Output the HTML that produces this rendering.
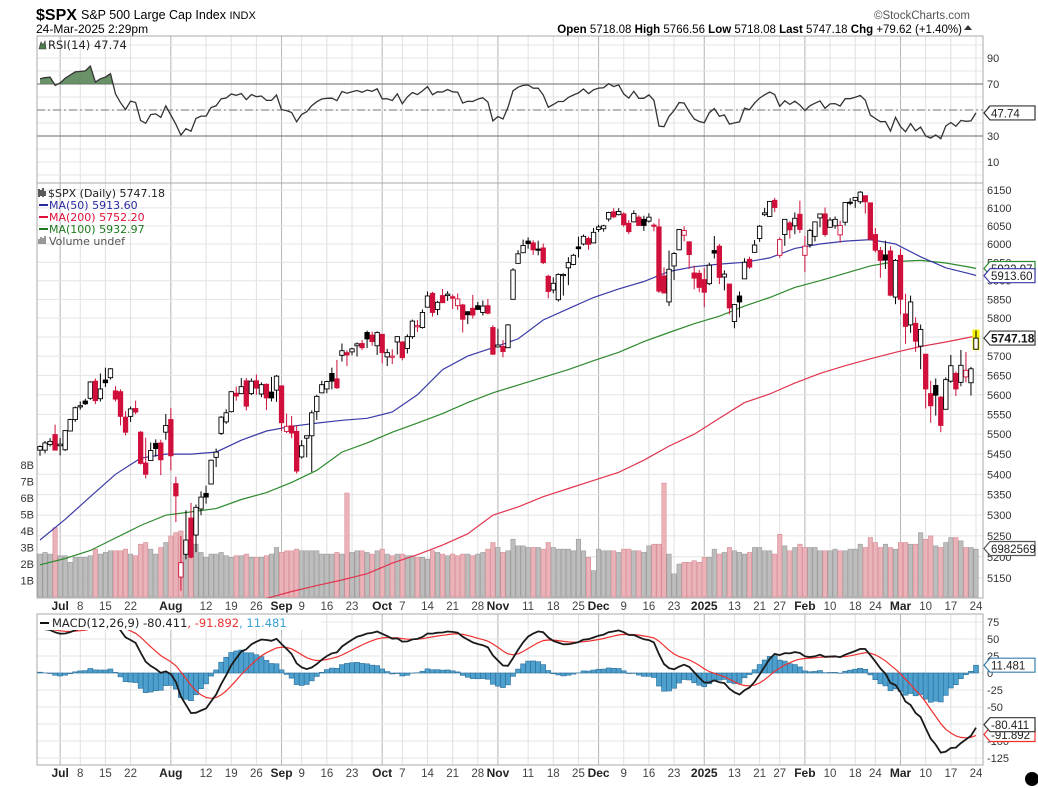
<!DOCTYPE html>
<html><head><meta charset="utf-8"><title>$SPX chart</title>
<style>
html,body{margin:0;padding:0;background:#fff;}
svg{display:block;font-family:"Liberation Sans",Arial,sans-serif;}
</style></head>
<body>
<svg id="chart" width="1038" height="788" viewBox="0 0 1038 788" xmlns="http://www.w3.org/2000/svg">
  <g>
    <text x="36" y="20" font-size="16" font-weight="bold">$SPX</text>
    <text x="81" y="19" font-size="12.5">S&amp;P 500 Large Cap Index <tspan font-size="11">INDX</tspan></text>
    <text x="36" y="33" font-size="12">24-Mar-2025 2:29pm</text>
    <text x="970" y="19" font-size="11.5" fill="#555" text-anchor="end">©StockCharts.com</text>
    <text x="962" y="33" font-size="11.5" text-anchor="end"><tspan font-weight="bold">Open</tspan> 5718.08  <tspan font-weight="bold">High</tspan> 5766.56  <tspan font-weight="bold">Low</tspan> 5718.08  <tspan font-weight="bold">Last</tspan> 5747.18  <tspan font-weight="bold">Chg</tspan> +79.62 (+1.40%)</text>
    <path d="M964,30 L968,25 L972,30 Z" fill="#333"/>
  </g>
  <g id="layer"></g>
  <circle cx="1032" cy="779" r="7" fill="#000"/>
</svg>
<script>
// ---------- DATA ----------
const preCloses=[5036,5018,5064,5128,5181,5187,5187,5214,5223,5221,5247,5308,5297,5303,5308,5321,5307,5268,5305,5306,5267,5236,5278,5283,5291,5354,5352,5347,5361,5375,5421,5434,5431,5473,5487,5473,5464,5448];
const opens=[5460,5460,5474,5499,5471,5461,5508,5537,5572,5584,5591,5635,5590,5638,5644,5610,5608,5543,5545,5565,5505,5428,5434,5477,5478,5505,5537,5377,5152,5206,5293,5252,5315,5353,5376,5442,5502,5531,5557,5604,5603,5636,5603,5636,5602,5627,5607,5612,5623,5507,5521,5507,5443,5490,5496,5557,5605,5615,5655,5641,5702,5709,5711,5727,5733,5762,5755,5727,5757,5698,5698,5737,5737,5720,5751,5779,5775,5829,5866,5823,5860,5860,5857,5833,5835,5817,5826,5833,5815,5833,5775,5724,5725,5722,5850,5947,5976,6008,6003,5986,5989,5912,5875,5849,5917,5935,5944,5992,6000,6015,6003,6040,6042,6069,6089,6081,6083,6057,6061,6074,6068,6063,6052,6047,5913,5843,5940,5984,6024,6006,5921,5920,5903,5892,5982,5994,5910,5891,5791,5859,5905,5958,5977,6015,6081,6076,6121,5969,6026,6058,6050,6082,5969,5998,6021,6072,6083,6046,6050,6025,6060,6116,6121,6117,6134,6114,6026,5982,5970,5981,5856,5969,5811,5782,5786,5726,5705,5603,5624,5594,5563,5635,5655,5632,5646,5631,5718];
const highs=[5472,5483,5490,5524,5490,5510,5539,5570,5583,5590,5635,5642,5655,5670,5669,5622,5614,5558,5570,5585,5508,5491,5479,5487,5486,5551,5566,5394,5250,5312,5330,5326,5358,5372,5436,5464,5546,5563,5609,5621,5643,5643,5642,5652,5632,5629,5646,5651,5624,5552,5546,5523,5485,5497,5560,5600,5636,5636,5670,5690,5733,5715,5722,5736,5742,5767,5764,5765,5757,5719,5718,5752,5739,5757,5796,5795,5823,5871,5870,5846,5878,5872,5863,5866,5838,5818,5862,5843,5847,5851,5781,5772,5742,5784,5934,5983,6012,6018,6010,6009,6001,5916,5909,5920,5920,5964,5973,6020,6026,6020,6044,6053,6053,6089,6099,6099,6088,6066,6093,6079,6078,6085,6057,6070,5936,5982,5978,6040,6049,6006,5941,5929,5935,5949,6022,6000,5928,5891,5837,5871,5961,5965,6011,6052,6100,6119,6128,6018,6069,6063,6087,6120,6022,6042,6062,6084,6101,6073,6076,6064,6116,6127,6129,6147,6134,6114,6044,5992,6009,5994,5959,5987,5865,5860,5802,5783,5705,5636,5642,5597,5645,5703,5660,5716,5711,5672,5767];
const lows=[5446,5452,5469,5460,5447,5458,5507,5531,5562,5574,5587,5576,5583,5620,5639,5583,5522,5497,5531,5550,5424,5390,5433,5444,5398,5486,5410,5283,5120,5194,5196,5211,5300,5328,5376,5418,5498,5526,5555,5585,5602,5560,5599,5600,5594,5561,5583,5582,5508,5503,5490,5402,5439,5442,5406,5536,5604,5604,5614,5615,5686,5674,5702,5699,5716,5721,5727,5703,5681,5674,5679,5704,5689,5707,5745,5763,5772,5828,5804,5808,5840,5846,5824,5822,5762,5784,5799,5822,5807,5810,5703,5723,5697,5721,5850,5947,5976,5987,5970,5969,5945,5853,5866,5844,5860,5888,5942,5963,5996,5984,6003,6033,6034,6062,6071,6079,6047,6027,6060,6051,6036,6059,6035,5867,5866,5832,5902,5983,6007,5932,5877,5869,5829,5888,5960,5891,5874,5810,5773,5802,5905,5932,5977,6006,6077,6075,6088,5962,5995,6015,6027,6030,5923,5990,6007,6046,6020,6045,6042,6004,6051,6107,6100,6111,6084,6009,5977,5908,5932,5858,5837,5810,5732,5761,5711,5666,5565,5529,5547,5505,5563,5631,5597,5622,5632,5598,5718];
const closes=[5469,5478,5482,5460,5475,5509,5537,5567,5572,5577,5633,5585,5615,5631,5667,5589,5545,5505,5564,5556,5427,5400,5459,5464,5436,5522,5446,5347,5186,5240,5199,5319,5344,5344,5435,5455,5543,5554,5608,5597,5621,5571,5635,5617,5626,5592,5592,5648,5529,5520,5503,5408,5471,5496,5554,5596,5626,5634,5635,5618,5714,5703,5719,5732,5722,5745,5738,5762,5709,5709,5700,5751,5696,5751,5792,5780,5815,5859,5815,5842,5841,5864,5853,5851,5797,5809,5808,5823,5832,5813,5705,5729,5712,5782,5929,5973,5996,6001,5984,5985,5949,5871,5893,5917,5917,5949,5969,5987,6021,5999,6032,6047,6050,6087,6075,6090,6053,6034,6084,6051,6051,6074,6050,5872,5867,5931,5974,6040,6037,5971,5907,5882,5869,5942,5975,5909,5918,5827,5836,5843,5950,5937,5997,6049,6086,6118,6101,6012,6068,6039,6071,6040,5994,6037,6061,6083,6026,6066,6068,6051,6115,6115,6129,6144,6117,6013,5983,5955,5956,5861,5955,5850,5778,5843,5739,5770,5615,5572,5599,5522,5639,5675,5615,5676,5663,5667,5747];
const volumes=[2.6,2.7,2.6,4.2,2.5,2.5,2.1,2.4,2.4,2.4,2.5,2.9,2.6,2.7,2.8,2.8,2.8,2.9,2.6,2.5,3.2,3.3,2.9,2.6,3.0,3.3,3.7,3.9,4.0,3.3,3.2,3.2,2.7,2.4,2.6,2.6,2.7,2.5,2.4,2.5,2.5,2.6,2.4,2.4,2.4,2.5,2.6,3.0,2.7,2.8,2.8,2.9,2.8,2.8,2.8,2.8,2.6,2.6,2.6,2.7,2.6,6.3,2.7,2.8,2.8,2.7,2.6,2.8,2.9,2.6,2.5,2.6,2.6,2.5,2.5,2.4,2.4,2.3,2.8,2.7,2.6,2.5,2.6,2.5,2.6,2.6,2.5,2.6,2.7,2.9,3.3,3.0,2.7,2.8,3.5,3.1,3.1,3.0,3.0,3.0,2.9,3.3,3.0,2.9,2.9,2.9,2.8,3.5,2.8,2.4,1.6,2.9,2.8,2.8,2.8,2.7,2.9,2.9,2.8,2.8,2.7,3.1,3.2,3.2,6.9,2.6,1.4,2.0,2.1,2.1,2.2,2.1,2.4,2.4,2.9,2.6,2.7,3.0,2.8,2.7,2.6,2.7,3.0,3.0,2.8,2.8,2.6,3.8,3.1,2.8,3.0,3.2,3.0,3.0,3.0,2.8,2.8,2.8,2.9,2.8,2.8,2.9,2.9,3.2,3.0,3.6,3.3,3.0,3.2,3.0,2.9,3.3,3.3,3.2,3.2,3.9,3.5,3.7,3.1,3.0,3.3,3.6,3.6,3.4,3.0,3.0,2.9,2.9,2.8,6.8,0];
const maIdx=[0,5,10,15,20,25,30,35,40,45,50,55,60,65,70,75,80,85,90,95,100,105,110,115,120,125,130,135,140,145,150,155,160,165,170,175,180,185,186];
const ma50=[5240,5290,5345,5400,5440,5450,5450,5455,5485,5508,5520,5528,5535,5540,5556,5600,5665,5700,5722,5745,5795,5825,5855,5878,5898,5925,5938,5945,5950,5962,5988,6000,6008,6012,6000,5965,5935,5918,5914];
const ma100=[5181,5196,5215,5245,5275,5300,5308,5316,5338,5355,5380,5410,5455,5478,5505,5528,5552,5580,5605,5625,5645,5665,5688,5710,5738,5762,5785,5805,5832,5855,5882,5900,5920,5940,5952,5955,5948,5936,5933];
const ma200=[4950,4965,4980,4995,5010,5025,5040,5055,5080,5102,5118,5132,5145,5160,5185,5205,5228,5255,5300,5320,5345,5365,5385,5405,5435,5470,5500,5540,5580,5602,5630,5655,5675,5693,5710,5725,5737,5750,5752];
const priceTicks=[5150,5200,5250,5300,5350,5400,5450,5500,5550,5600,5650,5700,5750,5800,5850,5900,5950,6000,6050,6100,6150];
const volTicks=[1,2,3,4,5,6,7,8];
const rsiTicks=[10,30,50,70,90];
const macdTicks=[-125,-100,-75,-50,-25,0,25,50,75];
const holidays=["2024-07-04","2024-09-02","2024-11-28","2024-12-25","2025-01-01","2025-01-09","2025-01-20","2025-02-17"];
const monthNames=["Jan","Feb","Mar","Apr","May","Jun","Jul","Aug","Sep","Oct","Nov","Dec"];

// ---------- GEOMETRY ----------
const NS="http://www.w3.org/2000/svg";
const L=37,R=983,X0=40,N=closes.length,STEP=(976-X0)/(N-1);
const RSI_T=36,RSI_B=183,P_T=183,P_B=598,M_T=614,M_B=765;
const layer=document.getElementById('layer');
function xS(i){return X0+i*STEP;}
function yP(p){return 190+2186*Math.log(6150/p);}
function yV(v){return 597-16.5*v;}
function yR(r){return 136-(r-30)*1.3;}
function yM(m){return 673-0.68*m;}
function mk(tag,attrs,parent){const e=document.createElementNS(NS,tag);for(const k in attrs)e.setAttribute(k,attrs[k]);(parent||layer).appendChild(e);return e;}
function grp(name){const g=mk('g',{});return g;}

// trading dates
const dates=[];{let d=new Date(Date.UTC(2024,5,25));while(dates.length<N){const dw=d.getUTCDay();const s=d.toISOString().slice(0,10);if(dw!==0&&dw!==6&&holidays.indexOf(s)<0)dates.push(new Date(d));d=new Date(d.getTime()+86400000);}}
// x-axis ticks
const isMonthStart=dates.map((d,i)=>i>0&&d.getUTCMonth()!==dates[i-1].getUTCMonth());
const ticks=[];let lastMonth=-1;
for(let i=0;i<N;i++){const d=dates[i];const m=d.getUTCMonth();
  if(isMonthStart[i]){ticks.push({i,label:m===0?String(d.getUTCFullYear()):monthNames[m],major:true});lastMonth=i;}
  else if(i>0&&d.getUTCDay()<dates[i-1].getUTCDay()&&(lastMonth<0||i-lastMonth>2)){
    let nearMonth=false;for(let j=i+1;j<N&&j<=i+3;j++){if(isMonthStart[j]){nearMonth=true;break;}}
    if(!nearMonth)ticks.push({i,label:String(d.getUTCDate()),major:false});}
}

// clip paths
const defs=mk('defs',{});
[['clipR',RSI_T,RSI_B],['clipP',P_T,P_B],['clipM',M_T,M_B]].forEach(c=>{const cp=mk('clipPath',{id:c[0]},defs);mk('rect',{x:L,y:c[1],width:R-L,height:c[2]-c[1]},cp);});

// vertical & horizontal grid
const gridG=grp('grid-lines');
[[RSI_T,RSI_B],[P_T,P_B],[M_T,M_B]].forEach(p=>{
  ticks.forEach(t=>{mk('line',{x1:xS(t.i),x2:xS(t.i),y1:p[0],y2:p[1],stroke:t.major?'#b4b4b4':'#e0e0e0','stroke-width':1},gridG);});
});
for(let r=0;r<=100;r+=10){const y=yR(r);if(y<RSI_T||y>RSI_B)continue;mk('line',{x1:L,x2:R,y1:y,y2:y,stroke:'#e4e4e4'},gridG);}
for(let p=5100;p<=6200;p+=50){const y=yP(p);if(y<P_T||y>P_B)continue;mk('line',{x1:L,x2:R,y1:y,y2:y,stroke:'#e4e4e4'},gridG);}
macdTicks.forEach(m=>{mk('line',{x1:L,x2:R,y1:yM(m),y2:yM(m),stroke:'#e4e4e4'},gridG);});

const bG=grp('panel-borders');
[[RSI_T,RSI_B],[P_T,P_B],[M_T,M_B]].forEach(p=>{mk('rect',{x:L,y:p[0],width:R-L,height:p[1]-p[0],fill:'none',stroke:'#aaa'},bG);});

const LEG_FONT='"DejaVu Sans","Liberation Sans",sans-serif';

// ---------- RSI ----------
const allC=preCloses.concat(closes);const rsiAll=[];
{let ag=0,al=0;for(let k=1;k<allC.length;k++){const ch=allC[k]-allC[k-1];const g=Math.max(ch,0),l=Math.max(-ch,0);if(k<=14){ag+=g/14;al+=l/14;}else{ag=(ag*13+g)/14;al=(al*13+l)/14;}rsiAll[k]=al===0?100:100-100/(1+ag/al);}}
const rsi=rsiAll.slice(preCloses.length);
const rsiG=grp('rsi-panel');
mk('line',{x1:L,x2:R,y1:yR(70),y2:yR(70),stroke:'#888','stroke-width':1.2},rsiG);
mk('line',{x1:L,x2:R,y1:yR(30),y2:yR(30),stroke:'#888','stroke-width':1.2},rsiG);
mk('line',{x1:L,x2:R,y1:yR(50),y2:yR(50),stroke:'#777','stroke-dasharray':'8,3,2,3'},rsiG);
{let dd='';for(let i=0;i<N;i++){dd+=(i?'L':'M')+xS(i).toFixed(1)+','+yR(rsi[i]).toFixed(1);}
 const cp=mk('clipPath',{id:'clipOB'},defs);mk('rect',{x:L,y:RSI_T,width:R-L,height:yR(70)-RSI_T},cp);
 const fill=mk('path',{d:'M'+xS(0)+','+yR(70)+dd.replace(/^M/,'L')+'L'+xS(N-1)+','+yR(70)+'Z',fill:'#4f7f4f','fill-opacity':0.85,'clip-path':'url(#clipOB)'},rsiG);
 
 const ln=mk('path',{d:dd,fill:'none',stroke:'#333','stroke-width':1.3},rsiG);}
const rsiAx=grp('rsi-axis');
rsiTicks.forEach(r=>{const t=mk('text',{x:987,y:yR(r)+4,'font-size':11,fill:'#333'},rsiAx);t.textContent=r;});
{const t=mk('text',{x:48,y:49,'font-size':11.5,fill:'#222','font-family':LEG_FONT},rsiG);t.textContent='RSI(14) 47.74';
 mk('path',{d:'M39,49 L41,42 L43,45 L45,41 L46,49 Z',fill:'#4f7f4f',stroke:'#333','stroke-width':0.6},rsiG);}

// ---------- VOLUME ----------
const volG=grp('volume-bars');volG.setAttribute('clip-path','url(#clipP)');
for(let i=0;i<N;i++){if(volumes[i]<=0)continue;const down=i>0&&closes[i]<closes[i-1];const y=yV(volumes[i]);
  const b=mk('rect',{x:xS(i)-2.2,y:y,width:4.4,height:Math.max(0,597-y),fill:down?'#eab3b9':'#bdbdbd',stroke:down?'#d88a93':'#999','stroke-width':0.6},volG);
  }
const vAx=grp('volume-axis');
volTicks.forEach(v=>{const t=mk('text',{x:34,y:yV(v)+4,'font-size':11,fill:'#333','text-anchor':'end'},vAx);t.textContent=v+'B';});

// ---------- MOVING AVERAGES ----------
function maLine(arr,color,name){let d='';arr.forEach((v,k)=>{d+=(k?'L':'M')+xS(maIdx[k]).toFixed(1)+','+yP(v).toFixed(1);});
  const p=mk('path',{d:d,fill:'none',stroke:color,'stroke-width':1.2,'clip-path':'url(#clipP)'});}
maLine(ma200,'#e0344f','ma200-line');
maLine(ma100,'#2e8a2e','ma100-line');
maLine(ma50,'#3a3aa8','ma50-line');

// ---------- CANDLES ----------
const cG=grp('candlesticks');cG.setAttribute('clip-path','url(#clipP)');
for(let i=0;i<N;i++){const x=xS(i);const down=i>0&&closes[i]<closes[i-1];const col=down?'#d0103a':'#000';
  const hollow=closes[i]>=opens[i];const yo=yP(opens[i]),yc=yP(closes[i]);
  const g=mk('g',{},cG);
  if(i===N-1)mk('rect',{x:x-3.5,y:yP(highs[i])-1,width:7,height:yP(lows[i])-yP(highs[i])+2,fill:'#f5f500'},g);
  mk('line',{x1:x,x2:x,y1:yP(highs[i]),y2:yP(lows[i]),stroke:col,'stroke-width':1},g);
  const top=Math.min(yo,yc),h=Math.max(1.2,Math.abs(yo-yc));
  mk('rect',{x:x-2.2,y:top,width:4.4,height:h,fill:hollow?'#fff':col,stroke:col,'stroke-width':0.9},g);}

const pAx=grp('price-axis');
priceTicks.forEach(p=>{const t=mk('text',{x:987,y:yP(p)+4,'font-size':11,fill:'#333'},pAx);t.textContent=p;});

// price legend
const lg=grp('price-legend');
[['$SPX (Daily) 5747.18','#222',197],['MA(50) 5913.60','#2a2aa0',209],['MA(200) 5752.20','#e0103a',221],['MA(100) 5932.97','#1f7a1f',233],['Volume undef','#555',245]].forEach((e,k)=>{
  const t=mk('text',{x:k===0?48:49,y:e[2],'font-size':11,fill:e[1],'font-family':LEG_FONT},lg);t.textContent=e[0];
  if(k>=1&&k<=3)mk('line',{x1:39,x2:48,y1:e[2]-4,y2:e[2]-4,stroke:e[1],'stroke-width':2},lg);});
mk('path',{d:'M39,189 v8 M41,190 v6 M43,188 v9 M45,191 v5',stroke:'#222','stroke-width':1.5},lg);
mk('path',{d:'M39,244 v-5 M41,244 v-7 M43,244 v-6 M45,244 v-8',stroke:'#777','stroke-width':1.5},lg);

// ---------- MACD ----------
function ema(arr,n){const k=2/(n+1);const out=[arr[0]];for(let j=1;j<arr.length;j++)out.push(arr[j]*k+out[j-1]*(1-k));return out;}
const e12=ema(allC,12),e26=ema(allC,26);const macdAll=e12.map((v,j)=>v-e26[j]);const sigAll=ema(macdAll,9);
const macd=macdAll.slice(preCloses.length),sig=sigAll.slice(preCloses.length);
const mG=grp('macd-panel');mG.setAttribute('clip-path','url(#clipM)');
for(let i=0;i<N;i++){const h=macd[i]-sig[i];const y0=yM(0),y1=yM(h);
  const b=mk('rect',{x:xS(i)-2.5,y:Math.min(y0,y1),width:5,height:Math.abs(y1-y0),fill:'#4d9fce',stroke:'#2b6f9a','stroke-width':0.6},mG);}
{let d1='',d2='';for(let i=0;i<N;i++){d1+=(i?'L':'M')+xS(i).toFixed(1)+','+yM(sig[i]).toFixed(1);d2+=(i?'L':'M')+xS(i).toFixed(1)+','+yM(macd[i]).toFixed(1);}
 mk('path',{d:d1,fill:'none',stroke:'#f03030','stroke-width':1.2},mG);
 mk('path',{d:d2,fill:'none',stroke:'#1a1a1a','stroke-width':1.8},mG);}
const mAx=grp('macd-axis');
macdTicks.forEach(m=>{if(m===-75)return;const t=mk('text',{x:987,y:yM(m)+4,'font-size':11,fill:'#333'},mAx);t.textContent=m;});
{const lgM=grp('macd-legend');
 mk('rect',{x:38,y:615,width:283,height:15,fill:'#fff'},lgM);
 mk('line',{x1:40,x2:49,y1:623,y2:623,stroke:'#111','stroke-width':2},lgM);
 const t=mk('text',{x:52,y:627,'font-size':11.5,fill:'#222','font-family':LEG_FONT},lgM);
 const s1=mk('tspan',{},t);s1.textContent='MACD(12,26,9) -80.411';
 const s2=mk('tspan',{fill:'#f03030'},t);s2.textContent=', -91.892';
 const s3=mk('tspan',{fill:'#3aa0d8'},t);s3.textContent=', 11.481';}

// ---------- X AXES ----------
[[606],[773]].forEach((row,k)=>{const g=grp(k?'x-axis-bottom':'x-axis-middle');
  ticks.forEach(t=>{const e=mk('text',{x:xS(t.i),y:row[0]+4,'font-size':t.major?12:11.5,'font-weight':t.major?'bold':'normal',fill:t.major?'#222':'#444','text-anchor':'middle'},g);e.textContent=t.label;});});

// ---------- VALUE TAGS ----------
function tag(y,text,stroke,color,bold,name){const g=mk('g',{});
  mk('path',{d:`M984,${y} L990,${y-7} L1035,${y-7} L1035,${y+7} L990,${y+7} Z`,fill:'#fff',stroke:stroke,'stroke-width':1.2},g);
  const t=mk('text',{x:991,y:y+4.5,'font-size':bold?12:11.5,'font-weight':bold?'bold':'normal',fill:color},g);t.textContent=text;}
tag(yR(47.74),'47.74','#333','#222',false,'rsi-value-tag');
tag(yP(5932.97),'5932.97','#2e8a2e','#222',false,'ma100-value-tag');
tag(yP(5913.60),'5913.60','#3a3aa8','#222',false,'ma50-value-tag');
tag(yP(5747.18),'5747.18','#333','#111',true,'last-price-tag');
tag(yV(volumes[N-2])+1,'6982569','#555','#222',false,'volume-value-tag');
tag(yM(11.481),'11.481','#3a7fb0','#222',false,'macd-hist-value-tag');
tag(yM(-91.892)-1,'-91.892','#f03030','#222',false,'macd-signal-value-tag');
tag(yM(-80.411)-3,'-80.411','#333','#222',false,'macd-value-tag');
</script>
</body></html>
